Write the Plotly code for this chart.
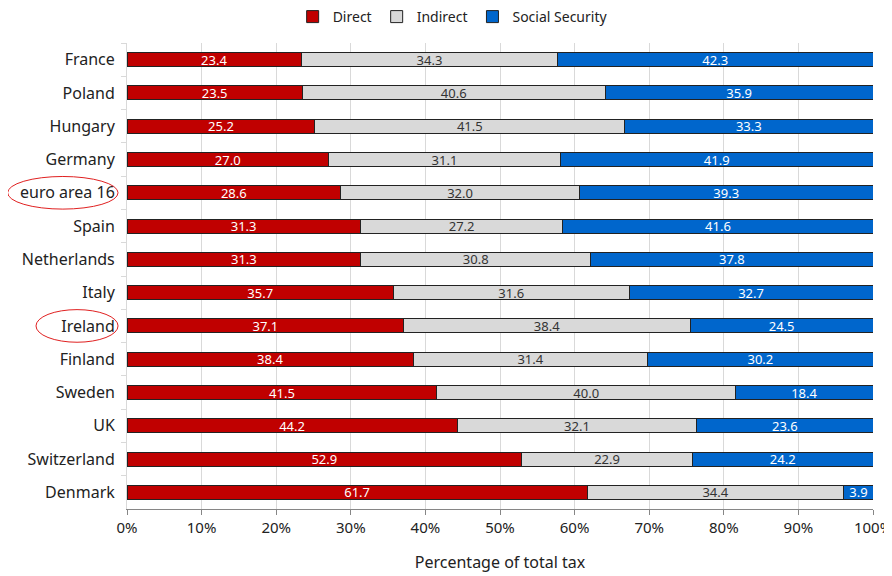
import plotly.graph_objects as go

countries = ["France", "Poland", "Hungary", "Germany", "euro area 16", "Spain", "Netherlands",
             "Italy", "Ireland", "Finland", "Sweden", "UK", "Switzerland", "Denmark"]
direct = [23.4, 23.5, 25.2, 27.0, 28.6, 31.3, 31.3, 35.7, 37.1, 38.4, 41.5, 44.2, 52.9, 61.7]
indirect = [34.3, 40.6, 41.5, 31.1, 32.0, 27.2, 30.8, 31.6, 38.4, 31.4, 40.0, 32.1, 22.9, 34.4]
social = [42.3, 35.9, 33.3, 41.9, 39.3, 41.6, 37.8, 32.7, 24.5, 30.2, 18.4, 23.6, 24.2, 3.9]
x_ticks = [0, 10, 20, 30, 40, 50, 60, 70, 80, 90, 100]
x_tick_labels = ["0%", "10%", "20%", "30%", "40%", "50%", "60%", "70%", "80%", "90%", "100%"]
highlighted = ["euro area 16", "Ireland"]

FONT = "Noto Sans"
fig = go.Figure()
series = [("Direct", direct, "#C00000", "white"),
          ("Indirect", indirect, "#D9D9D9", "#333333"),
          ("Social Security", social, "#0066CC", "white")]
for name, vals, color, tcolor in series:
    fig.add_trace(go.Bar(
        y=countries, x=vals, name=name, orientation="h",
        marker=dict(color=color, line=dict(color="#222222", width=1)),
        text=[f"{v:.1f}" for v in vals], textposition="inside",
        insidetextanchor="middle", textangle=0,
        insidetextfont=dict(color=tcolor, size=13, family=FONT),
        constraintext="none", width=0.42,
    ))

for c in highlighted:
    i = countries.index(c)
    x0 = -0.16 if c == "euro area 16" else -0.122
    fig.add_shape(type="circle", xref="paper", yref="y",
                  x0=x0, x1=-0.012, y0=i - 0.49, y1=i + 0.49,
                  line=dict(color="#E02020", width=1))

fig.update_layout(
    barmode="stack", barnorm="percent",
    width=884, height=568,
    margin=dict(l=119, r=19, t=35, b=67, autoexpand=False),
    plot_bgcolor="white", paper_bgcolor="white",
    font=dict(family=FONT, size=16, color="#222222"),
    legend=dict(orientation="h", x=0.503, xref="container", xanchor="center",
                y=1 - 9 / 568, yref="container", yanchor="middle",
                font=dict(size=14), traceorder="normal", itemwidth=30),
    xaxis=dict(range=[0, 100], tickvals=x_ticks, ticktext=x_tick_labels,
               showgrid=True, gridcolor="#D9D9D9", gridwidth=1,
               showline=True, linecolor="#868686", ticks="outside", ticklen=5,
               tickcolor="#868686", tickfont=dict(size=15), automargin=False,
               ticklabeloverflow="allow",
               title=dict(text="Percentage of total tax", font=dict(size=16), standoff=20),
               zeroline=False),
    yaxis=dict(autorange="reversed", showline=True, linecolor="#D9D9D9",
               ticks="outside", ticklen=5, tickcolor="#D9D9D9", tickson="boundaries",
               tickfont=dict(size=16), automargin=False, ticklabelstandoff=8),
)

fig.write_html("out.html")
